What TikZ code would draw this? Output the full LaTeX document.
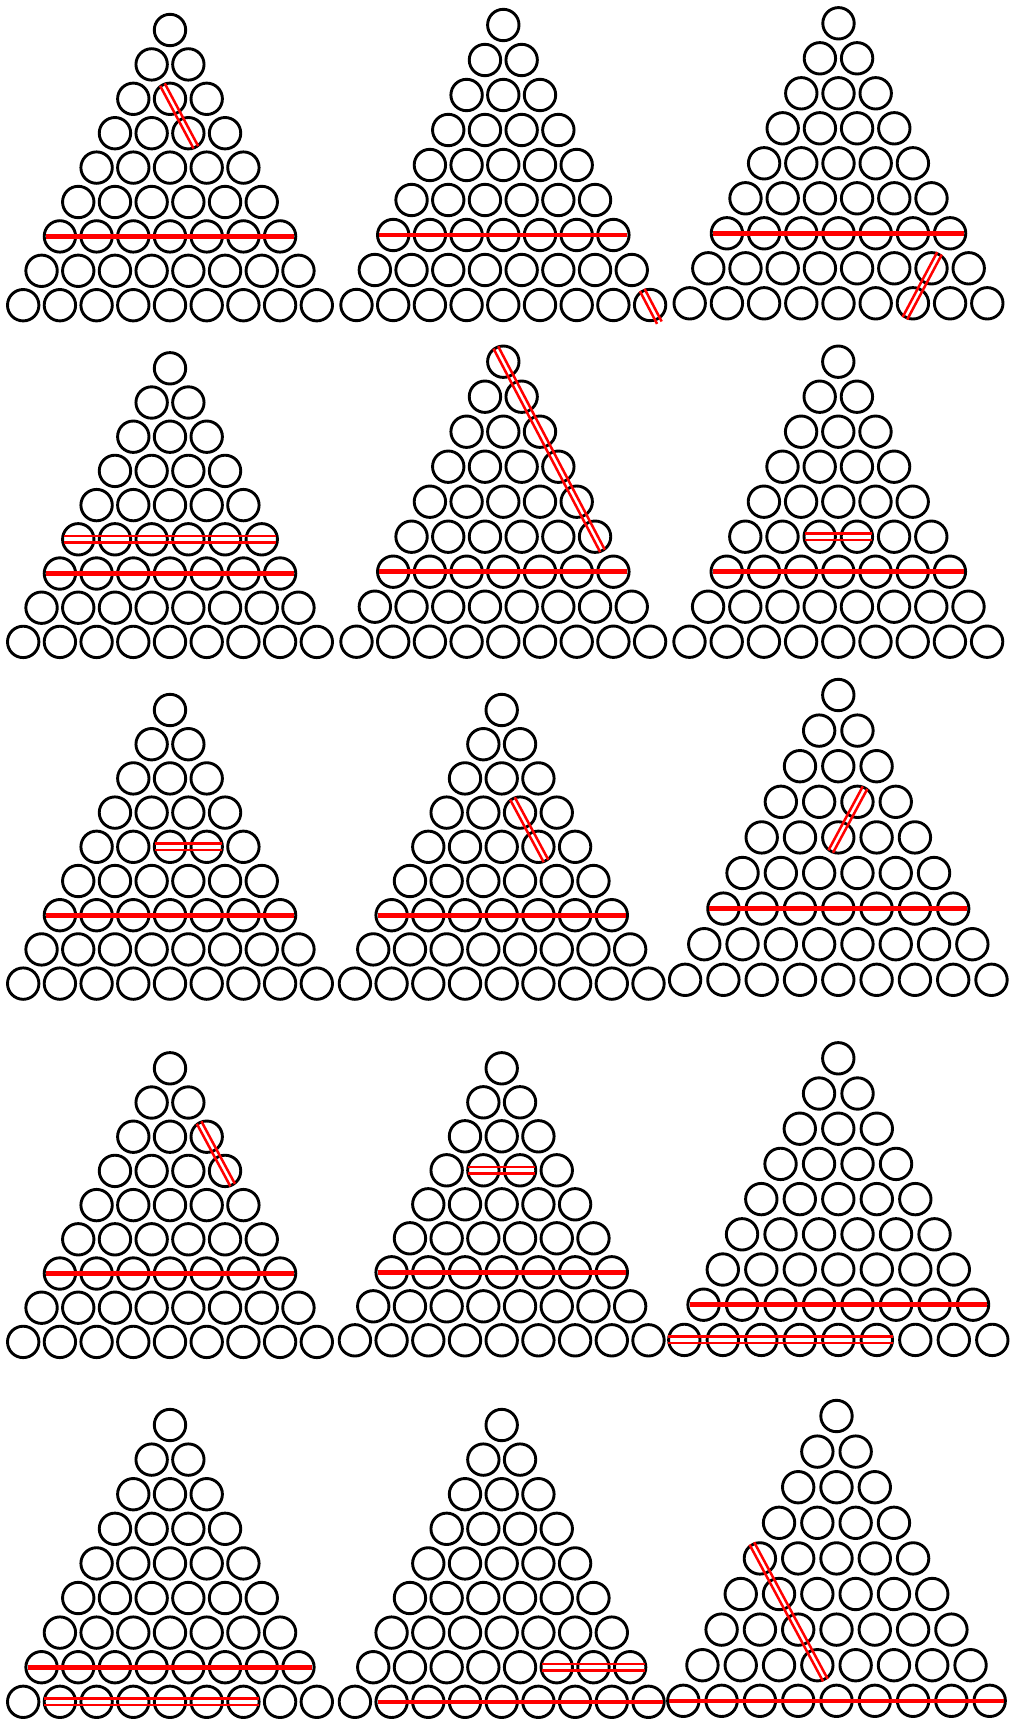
\documentclass[tikz,border=0pt]{standalone}
\usetikzlibrary{calc}
\tikzset{
  ball/.style={circle, draw=black, line width=2.9pt, minimum size=31.4pt, inner sep=0pt, outer sep=0pt},
  reds/.style={draw=red, line width=4.6pt},
  redd/.style={draw=red, line width=2.5pt},
}
% single red line through a run of balls
\newcommand\sline[2]{\draw[reds] ($(#1)!-14pt!(#2)$) -- ($(#2)!-14pt!(#1)$);}
% double red line (transparent gap): #1 half distance, #2 start ball, #3 end ball, #4 extension
\newcommand\dline[4]{%
  \coordinate (dA) at ($(#2)!-#4!(#3)$);
  \coordinate (dB) at ($(#3)!-#4!(#2)$);
  \draw[redd] ($(dA)!#1!90:(dB)$) -- ($(dB)!#1!-90:(dA)$);
  \draw[redd] ($(dA)!#1!-90:(dB)$) -- ($(dB)!#1!90:(dA)$);}
\begin{document}
\begin{tikzpicture}[x=1pt,y=-1pt]
\fill[white] (0,0) rectangle (1011,1722);
\useasboundingbox (0,0) rectangle (1011,1722);
\foreach \t/\cx/\yt/\h/\v in {
  1/170/30/36.7/34.4, 2/503.3/25/36.7/35, 3/838.5/23.3/37.2/35,
  4/170/368.3/36.7/34.2, 5/503.3/361.7/36.7/35, 6/838.3/361.7/37.2/35,
  7/170/710/36.7/34.2, 8/501.7/710/36.7/34.2, 9/838.3/695/38.3/35.6,
  10/170/1068.3/36.7/34.2, 11/501.7/1068.3/36.7/34.0, 12/838.3/1058.3/38.5/35.2,
  13/170/1425/36.7/34.6, 14/501.7/1425/36.7/34.6, 15/836.5/1416/38.3/35.6}{
  \foreach \r in {1,...,9}{
    \foreach \k in {1,...,\r}{
      \node[ball] (t\t-\r-\k) at ({\cx+(\k-(\r+1)/2)*\h},{\yt+(\r-1)*\v}) {};
    }
  }
}
% T1
\sline{t1-7-1}{t1-7-7}
\dline{2.6pt}{t1-3-2}{t1-4-3}{16pt}
% T2
\sline{t2-7-1}{t2-7-7}
\coordinate (t2v) at ($(t2-9-9)+(18.35,35)$);
\coordinate (t2s) at ($(t2-9-9)!-17pt!(t2v)$);
\coordinate (t2e) at ($(t2-9-9)!20pt!(t2v)$);
\draw[redd] ($(t2s)!2.6pt!90:(t2e)$) -- ($(t2e)!2.6pt!-90:(t2s)$);
\draw[redd] ($(t2s)!2.6pt!-90:(t2e)$) -- ($(t2e)!2.6pt!90:(t2s)$);
% T3
\sline{t3-7-1}{t3-7-7}
\dline{2.6pt}{t3-8-7}{t3-9-7}{17pt}
% T4
\dline{3.3pt}{t4-6-1}{t4-6-6}{14pt}
\sline{t4-7-1}{t4-7-7}
% T5
\dline{2.6pt}{t5-1-1}{t5-6-6}{16pt}
\sline{t5-7-1}{t5-7-7}
% T6
\dline{3.3pt}{t6-6-3}{t6-6-4}{15pt}
\sline{t6-7-1}{t6-7-7}
% T7
\dline{3.3pt}{t7-5-3}{t7-5-4}{15pt}
\sline{t7-7-1}{t7-7-7}
% T8
\dline{2.6pt}{t8-4-3}{t8-5-4}{16pt}
\sline{t8-7-1}{t8-7-7}
% T9
\dline{2.6pt}{t9-4-3}{t9-5-3}{16pt}
\sline{t9-7-1}{t9-7-7}
% T10
\dline{2.6pt}{t10-3-3}{t10-4-4}{16pt}
\sline{t10-7-1}{t10-7-7}
% T11
\dline{3.3pt}{t11-4-2}{t11-4-3}{15pt}
\sline{t11-7-1}{t11-7-7}
% T12
\sline{t12-8-1}{t12-8-8}
\dline{3.3pt}{t12-9-1}{t12-9-6}{16pt}
% T13
\sline{t13-8-1}{t13-8-8}
\dline{3.3pt}{t13-9-2}{t13-9-7}{16pt}
% T14
\dline{3.3pt}{t14-8-6}{t14-8-8}{15pt}
\sline{t14-9-2}{t14-9-9}
% T15
\dline{2.6pt}{t15-5-1}{t15-8-4}{17pt}
\sline{t15-9-1}{t15-9-9}
\end{tikzpicture}
\end{document}
